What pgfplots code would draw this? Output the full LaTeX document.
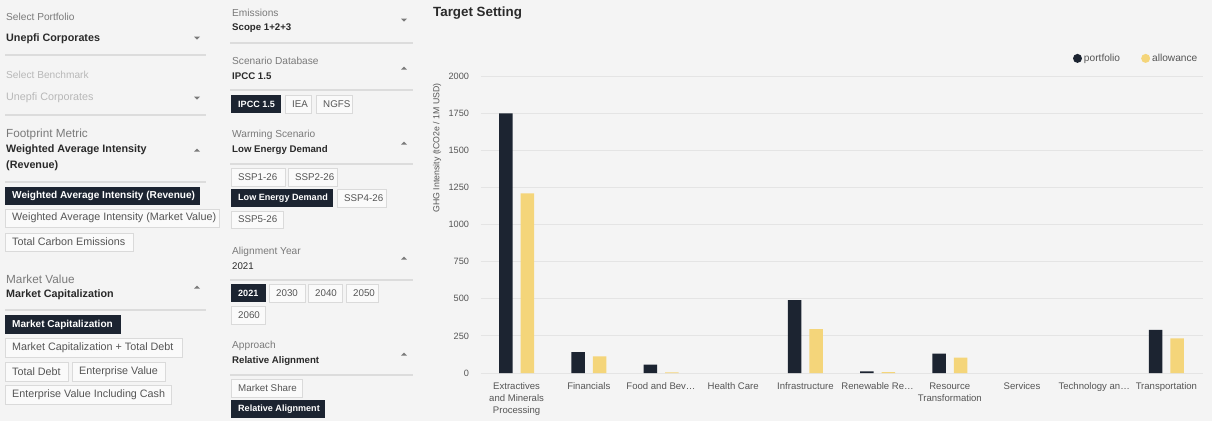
\documentclass[border=0pt]{standalone}
\usepackage{fontspec}
\setmainfont{Liberation Sans}
\usepackage{pgfplots}
\pgfplotsset{compat=1.18}

\definecolor{bg}{HTML}{F4F4F4}
\definecolor{navy}{HTML}{1C2431}
\definecolor{gold}{HTML}{F4D57A}
\definecolor{lab}{HTML}{7A7A7A}
\definecolor{val}{HTML}{2A2A2A}
\definecolor{faint}{HTML}{B8B8B8}
\definecolor{rule}{HTML}{DCDCDC}
\definecolor{box}{HTML}{DADADA}
\definecolor{gridc}{HTML}{E4E4E4}
\definecolor{tick}{HTML}{555555}

\newcommand\fs[1]{\fontsize{#1}{#1}\selectfont}
% small grey caption, bold value, buttons, arrows (y grows downwards)
\newcommand\uilab[4][lab]{\node[anchor=west,inner sep=0,text=#1,font=\fs{10.2}] at (#2,#3) {#4};}
\newcommand\uibig[3]{\node[anchor=west,inner sep=0,text=lab,font=\fs{11.8}] at (#1,#2) {#3};}
\newcommand\uival[4][val]{\node[anchor=west,inner sep=0,text=#1,font=\fs{\vs}\bfseries] at (#2,#3) {#4};}
\newcommand\dbtn[5]{\fill[navy] (#1,#2) rectangle (#3,#4);
  \node[anchor=west,inner sep=0,text=white,font=\fs{\ds}\bfseries] at ({#1+7},{(#2+#4)/2}) {#5};}
\newcommand\lbtn[5]{\filldraw[fill=white!50!bg,draw=box] (#1,#2) rectangle (#3,#4);
  \node[anchor=west,inner sep=0,text=tick,font=\fs{\ls}] at ({#1+7},{(#2+#4)/2}) {#5};}
\newcommand\uidn[2]{\fill[lab] ({#1-3},{#2-1.5}) -- ({#1+3},{#2-1.5}) -- (#1,{#2+1.5}) -- cycle;}
\newcommand\uiup[2]{\fill[lab] ({#1-3},{#2+1.5}) -- ({#1+3},{#2+1.5}) -- (#1,{#2-1.5}) -- cycle;}
\newcommand\uihr[3]{\draw[rule,line width=1.2bp] (#1,#3) -- (#2,#3);}

\begin{document}
\begin{tikzpicture}[x=1bp,y=-1bp]
\fill[bg] (0,0) rectangle (1212,421);
\useasboundingbox (0,0) rectangle (1212,421);

% ---- column 1
\def\vs{10.8}\def\ds{10.1}\def\ls{10.8}
\uilab{6}{17}{Select Portfolio}
\uival{6}{39}{Unepfi Corporates}
\uidn{197}{38}
\uihr{5}{206}{55}
\uilab[faint]{6}{75}{Select Benchmark}
\uival[faint]{6}{98}{\mdseries Unepfi Corporates}
\uidn{197}{98}
\uihr{5}{206}{115}
\uibig{6}{134}{Footprint Metric}
\uival{6}{150}{Weighted Average Intensity}
\uival{6}{166}{(Revenue)}
\uiup{197}{150}
\uihr{5}{206}{182}
\dbtn{5}{187}{200}{205}{Weighted Average Intensity (Revenue)}
\lbtn{5}{209}{219}{227}{Weighted Average Intensity (Market Value)}
\lbtn{5}{233}{133}{251}{Total Carbon Emissions}
\uibig{6}{279}{Market Value}
\uival{6}{295}{Market Capitalization}
\uiup{197}{287}
\uihr{5}{206}{310}
\dbtn{5}{315}{121}{334}{Market Capitalization}
\lbtn{5}{338}{182}{357}{Market Capitalization + Total Debt}
\lbtn{5}{362}{68}{381}{Total Debt}
\lbtn{72}{362}{165}{381}{Enterprise Value}
\lbtn{5}{385}{171}{404}{Enterprise Value Including Cash}

% ---- column 2
\def\vs{9.7}\def\ds{9.1}\def\ls{9.8}
\uilab{232}{13}{Emissions}
\uival{232}{28}{Scope 1+2+3}
\uidn{404}{20}
\uihr{230}{413}{43}
\uilab{232}{61}{Scenario Database}
\uival{232}{76}{IPCC 1.5}
\uiup{404}{68}
\uihr{230}{413}{90}
\dbtn{231}{95}{281}{113}{IPCC 1.5}
\lbtn{285}{95}{311}{113}{IEA}
\lbtn{316}{95}{352}{113}{NGFS}
\uilab{232}{135}{Warming Scenario}
\uival{232}{150}{Low Energy Demand}
\uiup{404}{143}
\uihr{230}{413}{164}
\lbtn{231}{168}{285}{186}{SSP1-26}
\lbtn{288}{168}{337}{186}{SSP2-26}
\dbtn{231}{189}{333}{207}{Low Energy Demand}
\lbtn{337}{189}{386}{207}{SSP4-26}
\lbtn{231}{211}{283}{228}{SSP5-26}
\uilab{232}{252}{Alignment Year}
\uival{232}{266}{\mdseries 2021}
\uiup{404}{258}
\uihr{230}{413}{280}
\dbtn{231}{284}{266}{302}{2021}
\lbtn{269}{284}{305}{302}{2030}
\lbtn{308}{284}{342}{302}{2040}
\lbtn{346}{284}{378}{302}{2050}
\lbtn{231}{306}{265}{324}{2060}
\uilab{232}{346}{Approach}
\uival{232}{361}{Relative Alignment}
\uiup{404}{354}
\uihr{230}{413}{375}
\lbtn{231}{379}{302}{397}{Market Share}
\dbtn{231}{400}{325}{418}{Relative Alignment}

% ---- chart
\node[anchor=west,inner sep=0,text=val,font=\fs{13.4}\bfseries] at (433,13) {Target Setting};
\coordinate (O) at (480.5,373);

\begin{scope}[y=1bp]
\begin{axis}[
  at={(O)}, anchor=south west,
  scale only axis, width=722bp, height=297bp,
  ybar=8bp, bar width=13.5bp,
  xmin=-0.5, xmax=9.5, ymin=0, ymax=2000,
  axis line style={draw=none}, major tick length=0pt,
  ymajorgrids, grid style={gridc,line width=1bp},
  ytick={0,250,500,750,1000,1250,1500,1750,2000},
  xtick={0,1,2,3,4,5,6,7,8,9},
  xticklabels={{Extractives\\and Minerals\\Processing},{Financials},{Food and Bev\ldots},{Health Care},{Infrastructure},{Renewable Re\ldots},{Resource\\Transformation},{Services},{Technology an\ldots},{Transportation}},
  xticklabel style={align=center,text=tick,font=\fontsize{9.6}{12}\selectfont,yshift=-6bp},
  yticklabel style={text=tick,font=\fs{9.2},xshift=-8bp},
  /pgf/number format/assume math mode=true,
  /pgf/number format/1000 sep={},
  ylabel={GHG Intensity (tCO2e / 1M USD)},
  ylabel style={at={(axis description cs:-0.060,0.758)},anchor=center,text=tick,font=\fs{8.8}},
  legend style={at={(axis description cs:1,1)},anchor=south east,yshift=9bp,xshift=0bp,draw=none,fill=none,
    font=\fs{10.2},text=tick,legend columns=2,
    /tikz/every even column/.append style={column sep=19bp}},
  legend image code/.code={\fill[#1] (-5bp,0bp) circle (4.5bp);},
]
\addplot[draw=none,fill=navy] coordinates {(0,1748) (1,141) (2,56) (4,491) (5,11) (6,130) (9,290)};
\addplot[draw=none,fill=gold] coordinates {(0,1210) (1,112) (2,4) (4,296) (5,6) (6,103) (9,234)};
\legend{portfolio,allowance}
\end{axis}
\end{scope}
\end{tikzpicture}
\end{document}
